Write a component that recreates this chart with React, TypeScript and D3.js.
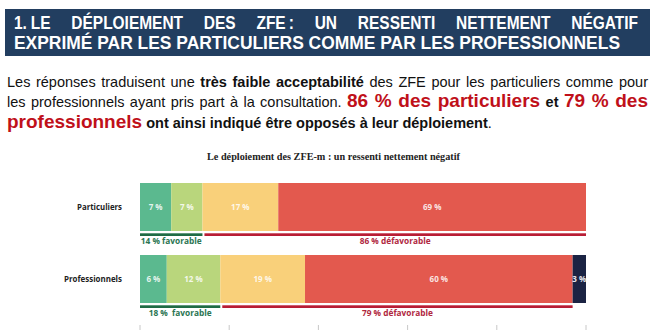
import React, { useLayoutEffect, useRef, useState } from "react";
import * as d3 from "d3";

const categories = ["Particuliers", "Professionnels"];
const levels = ["Très favorable", "Plutôt favorable", "Plutôt défavorable", "Très défavorable", "Sans avis"];
const particuliers = [7, 7, 17, 69, 0];
const professionnels = [6, 12, 19, 60, 3];
const favorable = [14, 18];
const defavorable = [86, 79];
const favLabels = ["14 % favorable", "18 %  favorable"];
const defLabels = ["86 % défavorable", "79 % défavorable"];
const ticks = [0, 20, 40, 60, 80, 100];

const colors = ["#5bb98f", "#b9d67c", "#f9d07a", "#e3594e", "#1b2343"];
const W = 670, H = 330;

function Justified({ x, y, width, children, scaleX = 1, ...rest }: any) {
  const ref = useRef<SVGTextElement>(null);
  const [ws, setWs] = useState(0);
  useLayoutEffect(() => {
    const el = ref.current;
    if (!el) return;
    const txt = el.textContent || "";
    const spaces = (txt.match(/ /g) || []).length;
    const natural = el.getComputedTextLength();
    if (spaces > 0) setWs((width / scaleX - natural) / spaces);
  }, []);
  return (
    <text ref={ref} x={0} y={0} transform={`translate(${x},${y}) scale(${scaleX},1)`}
      style={{ wordSpacing: `${ws}px` }} {...rest}>{children}</text>
  );
}

export default function App() {
  const x = d3.scaleLinear().domain([0, 100]).range([140, 586]);
  const y = d3.scaleBand<string>().domain(categories).range([183, 303]).paddingInner(1 / 3).paddingOuter(0);
  const rows = [particuliers, professionnels];
  const stack = rows.map((vals) => {
    let c = 0;
    return vals.map((v, i) => {
      const s = c;
      c += v;
      return { i, v, x0: s, x1: c };
    });
  });
  const red = "#c0101a";
  const sans = "Liberation Sans, Arial, sans-serif";
  return (
    <div style={{ position: "absolute", left: 0, top: 0 }}>
      <svg width={W} height={H} style={{ display: "block", background: "#fff" }}>
        {/* Header */}
        <rect x={5} y={9} width={645} height={47} fill="#223e60" />
        <Justified x={14} y={29} width={624} scaleX={0.86} fill="#fff" fontFamily={sans} fontWeight="bold" fontSize={18}>
          {"1.\u2005LE DÉPLOIEMENT DES ZFE\u202F: UN RESSENTI NETTEMENT NÉGATIF"}
        </Justified>
        <text x={14} y={48.5} fill="#fff" fontFamily={sans} fontWeight="bold" fontSize={18}
          textLength={606} lengthAdjust="spacingAndGlyphs">EXPRIMÉ PAR LES PARTICULIERS COMME PAR LES PROFESSIONNELS</text>

        {/* Paragraph */}
        <g fontFamily={sans} fill="#111">
          <Justified x={7} y={87} width={641} fontSize={14.5}>
            <tspan>Les réponses traduisent une </tspan>
            <tspan fontWeight="bold">très faible acceptabilité</tspan>
            <tspan> des ZFE pour les particuliers comme pour</tspan>
          </Justified>
          <Justified x={7} y={106.5} width={641} fontSize={14.5}>
            <tspan>les professionnels ayant pris part à la consultation. </tspan>
            <tspan fontWeight="bold" fill={red} fontSize={19}>86 % des particuliers</tspan>
            <tspan fontWeight="bold"> et </tspan>
            <tspan fontWeight="bold" fill={red} fontSize={19}>79 % des</tspan>
          </Justified>
          <text x={7} y={128} fontSize={14.5}>
            <tspan fontWeight="bold" fill={red} fontSize={19}>professionnels</tspan>
            <tspan fontWeight="bold"> ont ainsi indiqué être opposés à leur déploiement</tspan>
            <tspan>.</tspan>
          </text>
        </g>

        {/* Chart title */}
        <text x={333.5} y={160} textAnchor="middle" fontFamily="Liberation Serif, DejaVu Serif, serif" fontWeight="bold"
          fontSize={10} fill="#222" textLength={253} lengthAdjust="spacingAndGlyphs">
          Le déploiement des ZFE-m : un ressenti nettement négatif
        </text>

        {/* Bars */}
        {categories.map((cat, r) => {
          const y0 = y(cat)!;
          const bw = y.bandwidth();
          const fav = favorable[r];
          const def = defavorable[r];
          const lineY = y0 + bw + 2.3;
          return (
            <g key={cat}>
              <text x={122} y={y0 + bw / 2 + 3} textAnchor="end" fontFamily="Open Sans, sans-serif" fontWeight="bold"
                fontSize={8.5} fill="#222" textLength={r === 0 ? 45 : 58} lengthAdjust="spacingAndGlyphs">{cat}</text>
              {stack[r].filter((s) => s.v > 0).map((s) => (
                <g key={s.i}>
                  <rect x={x(s.x0)} y={y0} width={x(s.x1) - x(s.x0)} height={bw} fill={colors[s.i]}>
                    <title>{levels[s.i]}</title>
                  </rect>
                  <text x={(x(s.x0) + x(s.x1)) / 2} y={y0 + bw / 2 + 3} textAnchor="middle"
                    fontFamily="Open Sans, sans-serif" fontWeight="bold" fontSize={8}
                    fill={s.i === 4 ? "#e8e8ee" : "rgba(255,255,255,0.85)"}>{s.v} %</text>
                </g>
              ))}
              <rect x={x(0)} y={lineY} width={x(fav) - x(0)} height={2.7} fill="#1f6b45" />
              <rect x={x(fav) + 2} y={lineY} width={x(fav + def) - x(fav) - 2} height={2.7} fill="#b81d35" />
              <text x={(x(0) + x(fav)) / 2} y={lineY + 10.5} textAnchor="middle" fontFamily="Open Sans, sans-serif"
                fontWeight="bold" fontSize={8.3} fill="#2a7552" xmlSpace="preserve">{favLabels[r]}</text>
              <text x={(x(fav) + x(fav + def)) / 2 + 1} y={lineY + 10.5} textAnchor="middle" fontFamily="Open Sans, sans-serif"
                fontWeight="bold" fontSize={8.3} fill="#b0283f">{defLabels[r]}</text>
            </g>
          );
        })}

        {/* Axis ticks */}
        {ticks.map((t) => (
          <line key={t} x1={x(t)} x2={x(t)} y1={325} y2={331} stroke="#c8c8c8" strokeWidth={1} />
        ))}
      </svg>
    </div>
  );
}
